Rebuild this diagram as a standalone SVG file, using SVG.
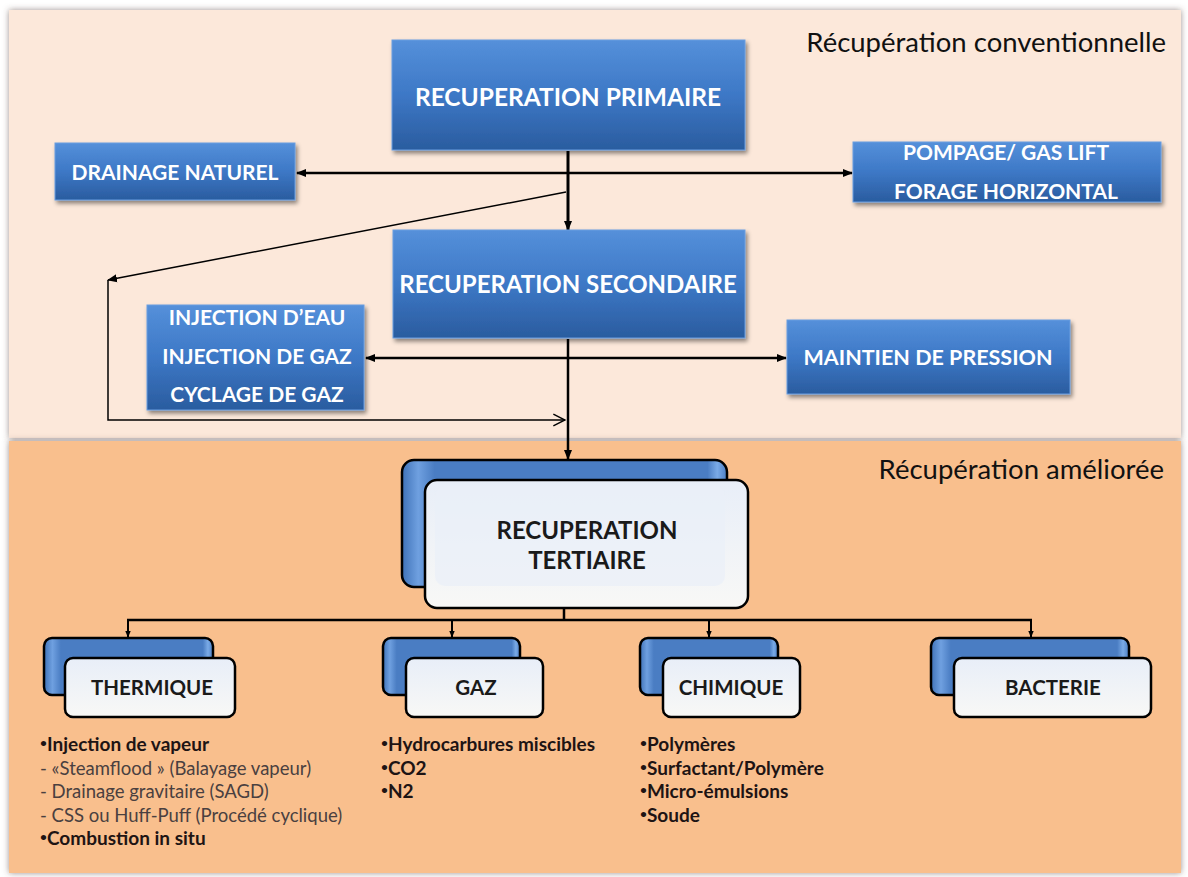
<svg xmlns="http://www.w3.org/2000/svg" width="1188" height="877" viewBox="0 0 1188 877">
<defs>
<linearGradient id="blue" x1="0" y1="0" x2="0" y2="1">
<stop offset="0" stop-color="#5590da"/>
<stop offset="0.5" stop-color="#3d78c6"/>
<stop offset="1" stop-color="#2a5c9f"/>
</linearGradient>
<linearGradient id="white" x1="0" y1="0" x2="0" y2="1">
<stop offset="0" stop-color="#e8eef8"/>
<stop offset="1" stop-color="#f8f8f6"/>
</linearGradient>
<linearGradient id="backblue" x1="0" y1="0" x2="1" y2="0">
<stop offset="0" stop-color="#3f72b8"/>
<stop offset="0.05" stop-color="#6fa0e0"/>
<stop offset="0.1" stop-color="#4a7dc3"/>
<stop offset="0.94" stop-color="#4a7dc3"/>
<stop offset="0.97" stop-color="#7aaae6"/>
<stop offset="1" stop-color="#4a7dc3"/>
</linearGradient>
<filter id="sh" x="-10%" y="-10%" width="130%" height="140%">
<feDropShadow dx="2" dy="3" stdDeviation="2" flood-color="#000" flood-opacity="0.45"/>
</filter>
<filter id="psh" x="-5%" y="-5%" width="110%" height="110%">
<feDropShadow dx="0" dy="0" stdDeviation="3" flood-color="#5a4a40" flood-opacity="0.6"/>
</filter>
<marker id="ahs" viewBox="0 0 10 10" refX="9" refY="5" markerWidth="7" markerHeight="7" orient="auto-start-reverse" markerUnits="userSpaceOnUse">
<path d="M0,1 L10,5 L0,9 z" fill="#000"/>
</marker>
<marker id="ahb" viewBox="0 0 10 10" refX="9" refY="5" markerWidth="10" markerHeight="10" orient="auto-start-reverse" markerUnits="userSpaceOnUse">
<path d="M0,1 L10,5 L0,9 z" fill="#000"/>
</marker>
<marker id="ao" viewBox="0 0 12 12" refX="11" refY="6" markerWidth="14" markerHeight="14" orient="auto" markerUnits="userSpaceOnUse">
<path d="M1,1 L11,6 L1,11" fill="none" stroke="#000" stroke-width="1.2"/>
</marker>
</defs>
<style>
.bt{font-family:Lato,"Open Sans",sans-serif;font-weight:bold;fill:#fff;text-anchor:middle}
.bx{fill:url(#blue);stroke:#6a9ee0;stroke-width:1;filter:url(#sh)}
.wt{font-family:Lato,"Open Sans",sans-serif;font-weight:bold;fill:#1a1a1a;text-anchor:middle}
.back{fill:url(#backblue);stroke:#000;stroke-width:2.5}
.front{fill:url(#white);stroke:#000;stroke-width:2.5}
.hl{fill:#eaf0f8;opacity:0.7}
.ttl{font-family:Lato,"Open Sans",sans-serif;font-size:27.5px;fill:#111}
.li{font-family:Lato,"Open Sans",sans-serif;font-size:19px;fill:#1e1414;font-weight:bold}
.ls{fill:#4a4040;font-size:18.5px;font-weight:normal}
.bu{font-size:12px}
.c{fill:none;stroke:#000}
</style>
<rect x="0" y="0" width="1188" height="877" fill="#fff"/>
<g id="panel-conventional">
<rect x="9" y="10" width="1172" height="428" fill="#fce8da" filter="url(#psh)"/>
<text class="ttl" x="1166" y="52" text-anchor="end">Récupération conventionnelle</text>
</g>
<g id="panel-amelioree">
<rect x="9" y="441" width="1172" height="432" fill="#f9bf8d" filter="url(#psh)"/>
<text class="ttl" x="1164" y="479" text-anchor="end">Récupération améliorée</text>
</g>
<g id="connectors">
<line class="c" x1="297" y1="173" x2="852" y2="173" stroke-width="2.5" marker-start="url(#ahb)" marker-end="url(#ahb)"/>
<line class="c" x1="568" y1="151" x2="568" y2="230" stroke-width="3" marker-end="url(#ahb)"/>
<line class="c" x1="566" y1="192" x2="108" y2="280" stroke-width="1.5" marker-end="url(#ahb)"/>
<polyline class="c" points="108,280 108,420 565,420" stroke-width="1.5" marker-end="url(#ao)"/>
<line class="c" x1="366" y1="358" x2="786" y2="358" stroke-width="2.5" marker-start="url(#ahb)" marker-end="url(#ahb)"/>
<line class="c" x1="568" y1="339" x2="568" y2="459" stroke-width="2.5" marker-end="url(#ahb)"/>
<line class="c" x1="564" y1="608" x2="564" y2="620" stroke-width="2.5"/>
<line class="c" x1="127" y1="620" x2="1032" y2="620" stroke-width="2.5"/>
<line class="c" x1="128" y1="620" x2="128" y2="637" stroke-width="2" marker-end="url(#ahs)"/>
<line class="c" x1="452" y1="620" x2="452" y2="637" stroke-width="2" marker-end="url(#ahs)"/>
<line class="c" x1="709" y1="620" x2="709" y2="637" stroke-width="2" marker-end="url(#ahs)"/>
<line class="c" x1="1031" y1="620" x2="1031" y2="637" stroke-width="2" marker-end="url(#ahs)"/>
</g>
<g id="n-primaire">
<rect class="bx" x="392" y="40" width="353" height="110"/>
<text class="bt" x="568" y="106" font-size="24.5">RECUPERATION PRIMAIRE</text>
</g>
<g id="n-drainage">
<rect class="bx" x="55" y="143" width="240" height="57"/>
<text class="bt" x="175" y="180" font-size="21">DRAINAGE NATUREL</text>
</g>
<g id="n-pompage">
<rect class="bx" x="853" y="142" width="308" height="60"/>
<text class="bt" x="1006" y="160" font-size="21">POMPAGE/ GAS LIFT</text>
<text class="bt" x="1006" y="199" font-size="21">FORAGE HORIZONTAL</text>
</g>
<g id="n-secondaire">
<rect class="bx" x="393" y="230" width="352" height="108"/>
<text class="bt" x="568" y="293" font-size="24">RECUPERATION SECONDAIRE</text>
</g>
<g id="n-injection">
<rect class="bx" x="147" y="305" width="217" height="105"/>
<text class="bt" x="257" y="325" font-size="21">INJECTION D’EAU</text>
<text class="bt" x="257" y="364" font-size="21">INJECTION DE GAZ</text>
<text class="bt" x="257" y="402" font-size="21">CYCLAGE DE GAZ</text>
</g>
<g id="n-maintien">
<rect class="bx" x="787" y="320" width="283" height="74"/>
<text class="bt" x="928" y="365" font-size="21.5">MAINTIEN DE PRESSION</text>
</g>
<g id="n-tertiaire">
<rect class="back" x="402" y="460" width="325" height="127" rx="12"/>
<rect class="front" x="425" y="480" width="323" height="128" rx="12"/>
<rect class="hl" x="435" y="486" width="290" height="100" rx="10"/>
<text class="wt" x="587" y="539" font-size="24">RECUPERATION</text>
<text class="wt" x="587" y="569" font-size="24">TERTIAIRE</text>
</g>
<g id="n-thermique">
<rect class="back" x="44" y="638" width="169" height="57" rx="8"/>
<rect class="front" x="65" y="658" width="170" height="59" rx="8"/>
<text class="wt" x="152" y="695" font-size="20.5">THERMIQUE</text>
</g>
<g id="n-gaz">
<rect class="back" x="383" y="638" width="137" height="57" rx="8"/>
<rect class="front" x="406" y="658" width="137" height="59" rx="8"/>
<text class="wt" x="476" y="695" font-size="20.5">GAZ</text>
</g>
<g id="n-chimique">
<rect class="back" x="640" y="638" width="138" height="57" rx="8"/>
<rect class="front" x="663" y="658" width="137" height="59" rx="8"/>
<text class="wt" x="731" y="695" font-size="20.5">CHIMIQUE</text>
</g>
<g id="n-bacterie">
<rect class="back" x="931" y="638" width="198" height="57" rx="8"/>
<rect class="front" x="954" y="658" width="197" height="59" rx="8"/>
<text class="wt" x="1053" y="695" font-size="20.5">BACTERIE</text>
</g>
<g id="list-thermique">
<text class="li" x="40" y="751"><tspan class="bu" baseline-shift="4">•</tspan>Injection de vapeur</text>
<text class="li ls" x="40" y="774.5">- «Steamflood » (Balayage vapeur)</text>
<text class="li ls" x="40" y="798">- Drainage gravitaire (SAGD)</text>
<text class="li ls" x="40" y="821.5">- CSS ou Huff-Puff (Procédé cyclique)</text>
<text class="li" x="40" y="845"><tspan class="bu" baseline-shift="4">•</tspan>Combustion in situ</text>
</g>
<g id="list-gaz">
<text class="li" x="381" y="751"><tspan class="bu" baseline-shift="4">•</tspan>Hydrocarbures miscibles</text>
<text class="li" x="381" y="774.5"><tspan class="bu" baseline-shift="4">•</tspan>CO2</text>
<text class="li" x="381" y="798"><tspan class="bu" baseline-shift="4">•</tspan>N2</text>
</g>
<g id="list-chimique">
<text class="li" x="640" y="751"><tspan class="bu" baseline-shift="4">•</tspan>Polymères</text>
<text class="li" x="640" y="774.5"><tspan class="bu" baseline-shift="4">•</tspan>Surfactant/Polymère</text>
<text class="li" x="640" y="798"><tspan class="bu" baseline-shift="4">•</tspan>Micro-émulsions</text>
<text class="li" x="640" y="821.5"><tspan class="bu" baseline-shift="4">•</tspan>Soude</text>
</g>
</svg>
